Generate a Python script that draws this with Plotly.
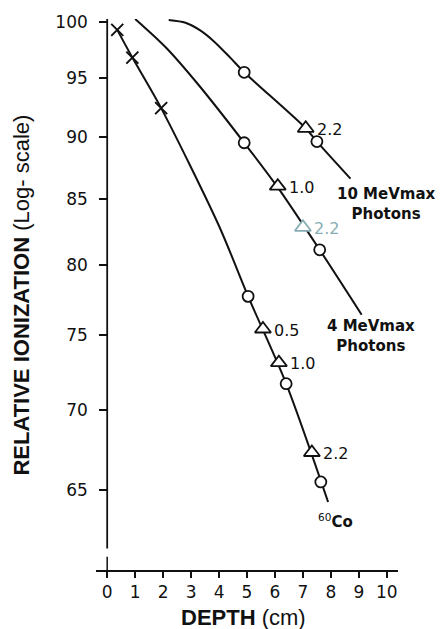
import numpy as np
import plotly.graph_objects as go

# ---------------- data ----------------
# 60Co
co_line_x = [0.36, 0.9, 1.93, 4.0, 5.04, 6.4, 7.9]
co_line_y = [99.3, 96.8, 92.4, 82.9, 77.7, 71.7, 64.3]
co_cross_x = [0.36, 0.9, 1.93]
co_cross_y = [99.3, 96.8, 92.4]
co_circ_x = [5.04, 6.4, 7.64]
co_circ_y = [77.7, 71.7, 65.5]
co_tri_x = [5.57, 6.14, 7.32]
co_tri_y = [75.4, 73.1, 67.3]
co_tri_lab = ["0.5", "1.0", "2.2"]

# 4 MeVmax photons
mv4_line_x = [1.0, 2.1, 3.3, 4.9, 6.1, 7.6, 9.1]
mv4_line_y = [100.3, 97.7, 94.3, 89.5, 85.9, 81.1, 76.4]
mv4_circ_x = [4.9, 7.6]
mv4_circ_y = [89.5, 81.1]
mv4_tri_x = [6.1, 7.0]
mv4_tri_y = [86.0, 82.8]
mv4_tri_lab = ["1.0", "2.2"]

# 10 MeVmax photons
mv10_line_x = [2.2, 2.8, 3.3, 3.8, 4.4, 4.9, 7.1, 7.5, 8.7]
mv10_line_y = [100.2, 99.95, 99.3, 98.3, 96.8, 95.5, 90.7, 89.6, 86.6]
mv10_circ_x = [4.9, 7.5]
mv10_circ_y = [95.5, 89.6]
mv10_tri_x = [7.1]
mv10_tri_y = [90.7]
mv10_tri_lab = ["2.2"]

x_ticks = list(range(0, 11))
y_ticks = [65, 70, 75, 80, 85, 90, 95, 100]

# ---------------- style ----------------
INK = "#111111"
FAINT = "#86aeb2"
TICKFONT = dict(family="DejaVu Sans", size=17, color=INK)
LABFONT = dict(family="DejaVu Sans", size=16, color=INK)
BOLDFONT = dict(family="DejaVu Sans", size=15, color=INK)
TITLEFONT = dict(family="Liberation Sans", size=22, color=INK)

fig = go.Figure()

def add_line(x, y):
    fig.add_trace(go.Scatter(x=x, y=y, mode="lines",
                             line=dict(color=INK, width=2, shape="spline", smoothing=0.8),
                             hoverinfo="skip", showlegend=False))

def add_markers(x, y, symbol, size, colors=None):
    c = colors if colors is not None else INK
    fig.add_trace(go.Scatter(x=x, y=y, mode="markers",
                             marker=dict(symbol=symbol, size=size, color="white",
                                         line=dict(color=c, width=1.8)),
                             hoverinfo="skip", showlegend=False))

add_line(co_line_x, co_line_y)
add_line(mv4_line_x, mv4_line_y)
add_line(mv10_line_x, mv10_line_y)

fig.add_trace(go.Scatter(x=co_cross_x, y=co_cross_y, mode="markers",
                         marker=dict(symbol="x-thin", size=12, line=dict(color=INK, width=2)),
                         hoverinfo="skip", showlegend=False))
add_markers(co_circ_x, co_circ_y, "circle", 11)
add_markers(mv4_circ_x, mv4_circ_y, "circle", 11)
add_markers(mv10_circ_x, mv10_circ_y, "circle", 11)
add_markers(co_tri_x, co_tri_y, "triangle-up", 14)
add_markers(mv4_tri_x, mv4_tri_y, "triangle-up", 14, colors=[INK, FAINT])
add_markers(mv10_tri_x, mv10_tri_y, "triangle-up", 14)

annotations = []

def tri_labels(xs, ys, labs, colors=None):
    for i, (x, y, t) in enumerate(zip(xs, ys, labs)):
        col = colors[i] if colors else INK
        annotations.append(dict(x=x, y=np.log10(y), xref="x", yref="y", text=t,
                                showarrow=False, xanchor="left", yanchor="middle",
                                xshift=9, yshift=-1, font=dict(LABFONT, color=col)))

tri_labels(co_tri_x, co_tri_y, co_tri_lab)
tri_labels(mv4_tri_x, mv4_tri_y, mv4_tri_lab, colors=[INK, FAINT])
tri_labels(mv10_tri_x, mv10_tri_y, mv10_tri_lab)

annotations.append(dict(x=10.0, y=np.log10(84.6), xref="x", yref="y",
                        text="<b>10 MeVmax<br>Photons</b>", showarrow=False,
                        xanchor="center", yanchor="middle", font=BOLDFONT))
annotations.append(dict(x=9.43, y=np.log10(74.9), xref="x", yref="y",
                        text="<b>4 MeVmax<br>Photons</b>", showarrow=False,
                        xanchor="center", yanchor="middle", font=BOLDFONT))
annotations.append(dict(x=8.17, y=np.log10(63.2), xref="x", yref="y",
                        text="<sup>60</sup><b>Co</b>", showarrow=False,
                        xanchor="center", yanchor="middle", font=BOLDFONT))

annotations.append(dict(x=0.49, y=-0.086, xref="paper", yref="paper",
                        text="<b>DEPTH</b> (cm)", showarrow=False,
                        xanchor="center", yanchor="middle", font=TITLEFONT))
annotations.append(dict(x=-0.245, y=0.498, xref="paper", yref="paper",
                        text="<b>RELATIVE IONIZATION</b> (Log- scale)", showarrow=False,
                        textangle=-90, xanchor="center", yanchor="middle", font=TITLEFONT))

x_lo, x_hi = -0.4, 10.4
y_lo, y_hi = 60.4, 100.3

shapes = [
    dict(type="line", xref="x", yref="paper", x0=0, x1=0, y0=0.039, y1=1.0,
         line=dict(color=INK, width=1.8)),
    dict(type="line", xref="x", yref="paper", x0=0, x1=0, y0=0.0, y1=0.024,
         line=dict(color=INK, width=1.5)),
]

fig.update_layout(
    width=440, height=629,
    margin=dict(l=96, r=42, t=14, b=59),
    paper_bgcolor="white", plot_bgcolor="white",
    annotations=annotations, shapes=shapes,
    xaxis=dict(range=[x_lo, x_hi], showgrid=False, zeroline=False,
               showline=True, linecolor=INK, linewidth=1.8,
               ticks="outside", ticklen=6, tickwidth=1.5, tickcolor=INK,
               tickvals=x_ticks, ticktext=[str(v) for v in x_ticks],
               tickfont=TICKFONT),
    yaxis=dict(type="log", range=[np.log10(y_lo), np.log10(y_hi)],
               anchor="free", position=(0 - x_lo) / (x_hi - x_lo),
               showgrid=False, zeroline=False, showline=False,
               ticks="outside", ticklen=8, tickwidth=1.5, tickcolor=INK,
               tickvals=y_ticks, ticktext=[str(v) for v in y_ticks],
               ticklabelstandoff=8, tickfont=TICKFONT),
)

fig.write_html("out.html", config={"displayModeBar": False},
               post_script="document.body.style.margin='0';document.body.style.overflow='hidden';")
